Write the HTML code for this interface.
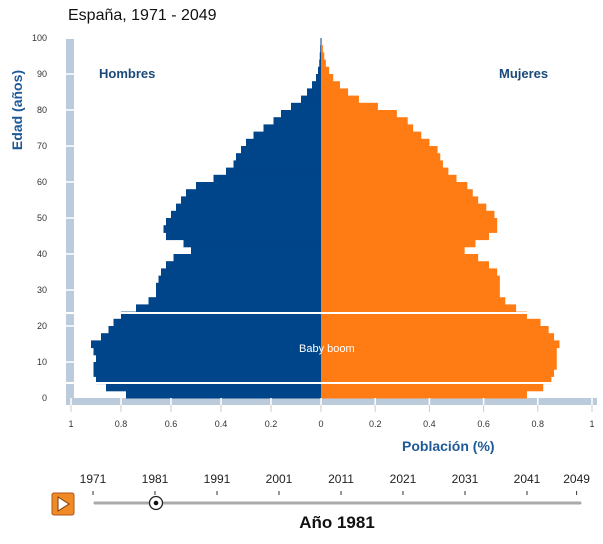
<!DOCTYPE html>
<html><head><meta charset="utf-8"><style>
body{margin:0;background:#fff;width:603px;height:539px;overflow:hidden;font-family:"Liberation Sans",Arial,sans-serif}
</style></head><body>
<svg width="603" height="539" viewBox="0 0 603 539" xmlns="http://www.w3.org/2000/svg">
<text x="68" y="20" font-size="16" fill="#111">España, 1971 - 2049</text>
<text transform="translate(22,110) rotate(-90)" text-anchor="middle" font-size="14" font-weight="bold" fill="#1f5a96">Edad (años)</text>
<rect x="66" y="39" width="8" height="366" fill="#bccbdc"/>
<rect x="66" y="398" width="531" height="7" fill="#bccbdc"/>
<g id="ygrid"></g><g id="bars"></g><g id="xg"></g>
<line x1="66" y1="313" x2="580" y2="313" stroke="#fff" stroke-width="2"/>
<line x1="66" y1="383" x2="580" y2="383" stroke="#fff" stroke-width="2"/>
<text x="299" y="352" font-size="11" fill="#fff">Baby boom</text>
<text x="99" y="78" font-size="13" font-weight="bold" fill="#1a4a7a">Hombres</text>
<text x="499" y="78" font-size="13" font-weight="bold" fill="#1a4a7a">Mujeres</text>
<text x="402" y="451" font-size="14" font-weight="bold" fill="#1f5a96">Población (%)</text>
<g id="slider"></g>
<line x1="95" y1="503" x2="580" y2="503" stroke="#aaa" stroke-width="3" stroke-linecap="round"/>
<circle cx="156" cy="503" r="6.5" fill="#fff" stroke="#222" stroke-width="1.3"/>
<circle cx="156" cy="503" r="2.3" fill="#111"/>
<g><rect x="52" y="493" width="22" height="22" rx="2" fill="#f08a24" stroke="#b0541a"/><polygon points="58,497 58,511 69,504" fill="#fff" stroke="#7a3a10" stroke-width="1"/></g>
<text x="337" y="528" text-anchor="middle" font-size="17" font-weight="bold" fill="#111">Año 1981</text>
</svg>
<script>
const ages=[0,2,4,6,8,10,12,14,16,18,20,22,24,26,28,30,32,34,36,38,40,42,44,46,48,50,52,54,56,58,60,62,64,66,68,70,72,74,76,78,80,82,84,86,88,90,92,94,96,98];
const men=[0.78,0.86,0.90,0.91,0.91,0.90,0.91,0.92,0.88,0.85,0.83,0.80,0.74,0.69,0.66,0.66,0.65,0.64,0.62,0.59,0.52,0.55,0.62,0.63,0.62,0.60,0.58,0.56,0.54,0.50,0.43,0.38,0.35,0.34,0.32,0.30,0.27,0.23,0.19,0.16,0.12,0.08,0.056,0.036,0.02,0.012,0.007,0.005,0.003,0.002];
const women=[0.76,0.82,0.85,0.86,0.87,0.87,0.87,0.88,0.86,0.84,0.81,0.76,0.72,0.68,0.66,0.66,0.66,0.65,0.62,0.58,0.53,0.57,0.62,0.65,0.65,0.64,0.61,0.58,0.56,0.54,0.50,0.47,0.45,0.44,0.43,0.40,0.37,0.34,0.32,0.28,0.21,0.14,0.10,0.07,0.045,0.03,0.018,0.012,0.007,0.004];
const yTicks=[0,10,20,30,40,50,60,70,80,90,100];
const xTicksL=[1,0.8,0.6,0.4,0.2,0];
const xTicksR=[0.2,0.4,0.6,0.8,1];
const years=[1971,1981,1991,2001,2011,2021,2031,2041,2049];
const NS="http://www.w3.org/2000/svg";
const cx=321;
function y(a){return 398-a*3.6;}
function xl(v){return cx-v*250;}
function xr(v){return cx+v*271;}
function yx(yr){return 93+(yr-1971)*6.2;}
function mk(tag,at,parent){const e=document.createElementNS(NS,tag);for(const k in at)e.setAttribute(k,at[k]);parent.appendChild(e);return e;}
const bars=document.getElementById('bars');
ages.forEach((a,i)=>{
 const top=y(a+2),h=y(a)-top;
 const m=mk('rect',{x:xl(men[i]),y:top,width:cx-xl(men[i]),height:h+0.5,fill:'#004489'},bars);
 
 
 const w=mk('rect',{x:cx,y:top,width:xr(women[i])-cx,height:h+0.5,fill:'#ff7c14'},bars);
 
 
});
const yg=document.getElementById('ygrid');
yTicks.forEach(t=>{
 const ty=y(t);
 const l=mk('text',{x:47,y:ty+3,'text-anchor':'end','font-size':9,fill:'#333'},yg);l.textContent=t;
 
 
 if(t>0&&t<100)mk('line',{x1:66,y1:ty,x2:74,y2:ty,stroke:'#fff','stroke-width':1.5},yg);
});
const xg=document.getElementById('xg');
function xt(px,v){
 mk('line',{x1:px,y1:398,x2:px,y2:405,stroke:'#fff','stroke-width':1.5},xg);
 mk('line',{x1:px,y1:405,x2:px,y2:412,stroke:'#ccc','stroke-width':1},xg);
 const l=mk('text',{x:px,y:427,'text-anchor':'middle','font-size':9,fill:'#333'},xg);l.textContent=v;
 
 
}
xTicksL.forEach(v=>xt(xl(v),v));
xTicksR.forEach(v=>xt(xr(v),v));
const sl=document.getElementById('slider');
years.forEach(yr=>{
 const px=yx(yr);
 const l=mk('text',{x:px,y:483,'text-anchor':'middle','font-size':12,fill:'#222'},sl);l.textContent=yr;
 
 
 mk('line',{x1:px,y1:491,x2:px,y2:495,stroke:'#333','stroke-width':1},sl);
});
</script>
</body></html>
